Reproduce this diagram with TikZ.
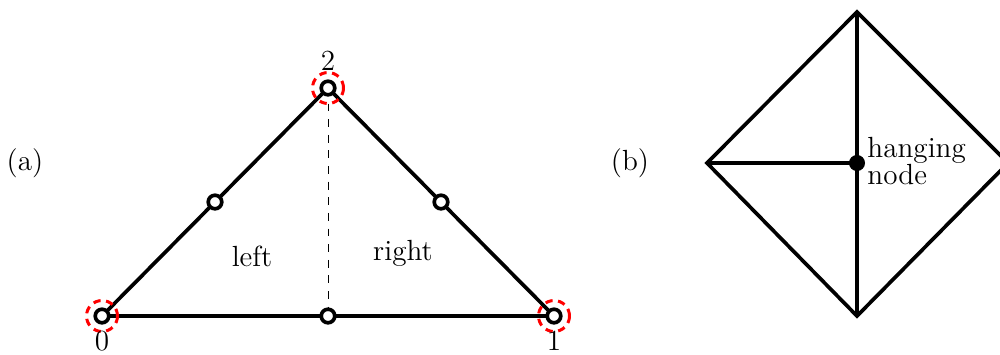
\documentclass[tikz,border=0pt]{standalone}
\begin{document}
\begin{tikzpicture}[x=0.0153cm,y=-0.0153cm,
  every node/.style={font=\fontsize{12.7}{11.7}\selectfont},
  edge/.style={line width=1.6pt},
  vtx/.style={circle,draw,fill=white,line width=1.6pt,inner sep=0pt,minimum size=5.9pt},
  ring/.style={circle,draw=red,dash pattern=on 3.2pt off 2.4pt,line width=1.3pt,inner sep=0pt,minimum size=13.5pt},
  hang/.style={circle,fill=black,inner sep=0pt,minimum size=7pt}]
\useasboundingbox (0,0) rectangle (1000,354);
% (a)
\coordinate (p0) at (102,316);
\coordinate (p1) at (554,316);
\coordinate (p2) at (328,88);
\coordinate (m01) at (328,316);
\coordinate (m02) at (215,202);
\coordinate (m12) at (441,202);
\draw[line width=0.4pt,dash pattern=on 3.4pt off 3.4pt] (p2) -- (m01);
\draw[edge] (p0) -- (p1) -- (p2) -- cycle;
\node[ring] (r0) at (p0) {};
\node[ring] (r1) at (p1) {};
\node[ring] (r2) at (p2) {};
\foreach \n in {p0,p1,p2,m01,m02,m12} \node[vtx] (v\n) at (\n) {};
\node (l0) at (102,341) {0};
\node (l1) at (554,341) {1};
\node (l2) at (328,61) {2};
\node (left) at (252,256) {left};
\node (right) at (403,253) {right};
\node (la) at (25,163) {(a)};
% (b)
\node (lb) at (630,163) {(b)};
\coordinate (t) at (857,12);
\coordinate (b) at (857,316);
\coordinate (l) at (707,163);
\coordinate (r) at (1008,163);
\coordinate (c) at (857,163);
\draw[edge] (t) -- (l) -- (b) -- (r) -- cycle;
\draw[edge] (t) -- (b);
\draw[edge] (l) -- (c);
\node[hang] (h) at (c) {};
\node[anchor=west,align=left,inner sep=0pt] (ht) at (867,161) {hanging\\node};
\end{tikzpicture}
\end{document}
